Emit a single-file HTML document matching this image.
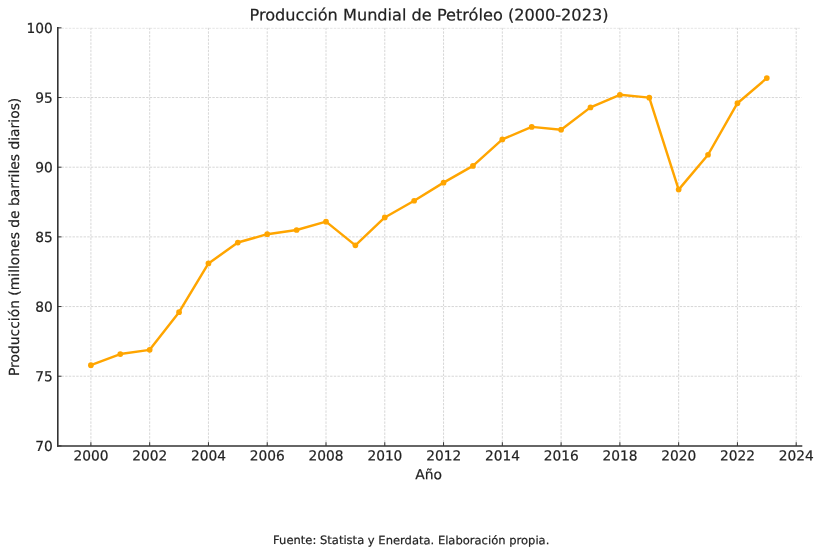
<!DOCTYPE html>
<html lang="es"><head><meta charset="utf-8"><title>Producción Mundial de Petróleo (2000-2023)</title>
<style>html,body{margin:0;padding:0;background:#fff;}body{width:822px;height:555px;overflow:hidden;}svg{display:block;}text{font-family:"DejaVu Sans","Liberation Sans",sans-serif;fill:#222222;stroke:#222222;stroke-width:0.2px;text-rendering:geometricPrecision;}</style>
</head><body>
<svg width="822" height="555" viewBox="0 0 822 555">
<rect width="822" height="555" fill="#ffffff"/>
<g stroke="#c9c9c9" stroke-width="0.75" stroke-dasharray="2.4 1.28" fill="none">
<line x1="90.90" y1="445.90" x2="90.90" y2="27.85"/>
<line x1="149.68" y1="445.90" x2="149.68" y2="27.85"/>
<line x1="208.45" y1="445.90" x2="208.45" y2="27.85"/>
<line x1="267.23" y1="445.90" x2="267.23" y2="27.85"/>
<line x1="326.00" y1="445.90" x2="326.00" y2="27.85"/>
<line x1="384.77" y1="445.90" x2="384.77" y2="27.85"/>
<line x1="443.55" y1="445.90" x2="443.55" y2="27.85"/>
<line x1="502.33" y1="445.90" x2="502.33" y2="27.85"/>
<line x1="561.10" y1="445.90" x2="561.10" y2="27.85"/>
<line x1="619.88" y1="445.90" x2="619.88" y2="27.85"/>
<line x1="678.65" y1="445.90" x2="678.65" y2="27.85"/>
<line x1="737.43" y1="445.90" x2="737.43" y2="27.85"/>
<line x1="796.20" y1="445.90" x2="796.20" y2="27.85"/>
<line x1="57.80" y1="376.22" x2="801.50" y2="376.22"/>
<line x1="57.80" y1="306.55" x2="801.50" y2="306.55"/>
<line x1="57.80" y1="236.88" x2="801.50" y2="236.88"/>
<line x1="57.80" y1="167.20" x2="801.50" y2="167.20"/>
<line x1="57.80" y1="97.53" x2="801.50" y2="97.53"/>
<line x1="57.80" y1="28.30" x2="801.20" y2="28.30" stroke-width="0.5"/>
</g>
<polyline points="90.90,365.18 120.29,354.03 149.68,349.85 179.06,312.22 208.45,263.45 237.84,242.55 267.23,234.19 296.61,230.01 326.00,221.65 355.39,245.34 384.77,217.47 414.16,200.74 443.55,182.63 472.94,165.91 502.33,139.43 531.71,126.89 561.10,129.68 590.49,107.38 619.88,94.84 649.26,97.63 678.65,189.60 708.04,154.76 737.43,103.20 766.81,78.12" fill="none" stroke="#ffa500" stroke-width="2.45" stroke-linejoin="round" stroke-linecap="butt"/>
<g fill="#ffa500">
<circle cx="90.90" cy="365.18" r="2.85"/>
<circle cx="120.29" cy="354.03" r="2.85"/>
<circle cx="149.68" cy="349.85" r="2.85"/>
<circle cx="179.06" cy="312.22" r="2.85"/>
<circle cx="208.45" cy="263.45" r="2.85"/>
<circle cx="237.84" cy="242.55" r="2.85"/>
<circle cx="267.23" cy="234.19" r="2.85"/>
<circle cx="296.61" cy="230.01" r="2.85"/>
<circle cx="326.00" cy="221.65" r="2.85"/>
<circle cx="355.39" cy="245.34" r="2.85"/>
<circle cx="384.77" cy="217.47" r="2.85"/>
<circle cx="414.16" cy="200.74" r="2.85"/>
<circle cx="443.55" cy="182.63" r="2.85"/>
<circle cx="472.94" cy="165.91" r="2.85"/>
<circle cx="502.33" cy="139.43" r="2.85"/>
<circle cx="531.71" cy="126.89" r="2.85"/>
<circle cx="561.10" cy="129.68" r="2.85"/>
<circle cx="590.49" cy="107.38" r="2.85"/>
<circle cx="619.88" cy="94.84" r="2.85"/>
<circle cx="649.26" cy="97.63" r="2.85"/>
<circle cx="678.65" cy="189.60" r="2.85"/>
<circle cx="708.04" cy="154.76" r="2.85"/>
<circle cx="737.43" cy="103.20" r="2.85"/>
<circle cx="766.81" cy="78.12" r="2.85"/>
</g>
<g stroke="#333333" stroke-width="1.0" fill="none">
<line x1="90.90" y1="445.90" x2="90.90" y2="442.20"/>
<line x1="149.68" y1="445.90" x2="149.68" y2="442.20"/>
<line x1="208.45" y1="445.90" x2="208.45" y2="442.20"/>
<line x1="267.23" y1="445.90" x2="267.23" y2="442.20"/>
<line x1="326.00" y1="445.90" x2="326.00" y2="442.20"/>
<line x1="384.77" y1="445.90" x2="384.77" y2="442.20"/>
<line x1="443.55" y1="445.90" x2="443.55" y2="442.20"/>
<line x1="502.33" y1="445.90" x2="502.33" y2="442.20"/>
<line x1="561.10" y1="445.90" x2="561.10" y2="442.20"/>
<line x1="619.88" y1="445.90" x2="619.88" y2="442.20"/>
<line x1="678.65" y1="445.90" x2="678.65" y2="442.20"/>
<line x1="737.43" y1="445.90" x2="737.43" y2="442.20"/>
<line x1="796.20" y1="445.90" x2="796.20" y2="442.20"/>
<line x1="57.80" y1="445.90" x2="61.50" y2="445.90"/>
<line x1="57.80" y1="376.22" x2="61.50" y2="376.22"/>
<line x1="57.80" y1="306.55" x2="61.50" y2="306.55"/>
<line x1="57.80" y1="236.88" x2="61.50" y2="236.88"/>
<line x1="57.80" y1="167.20" x2="61.50" y2="167.20"/>
<line x1="57.80" y1="97.53" x2="61.50" y2="97.53"/>
<line x1="57.80" y1="27.85" x2="61.50" y2="27.85"/>
</g>
<g stroke="#333333" stroke-width="1.6" fill="none" stroke-linecap="square">
<line x1="57.80" y1="27.85" x2="57.80" y2="445.90"/>
<line x1="57.80" y1="446.00" x2="801.50" y2="446.00"/>
</g>
<text transform="translate(91.00 460.55) rotate(0.03) scale(0.990 1.000)" font-size="13.89" text-anchor="middle">2000</text>
<text transform="translate(149.78 460.55) rotate(0.03) scale(0.990 1.000)" font-size="13.89" text-anchor="middle">2002</text>
<text transform="translate(208.55 460.55) rotate(0.03) scale(0.990 1.000)" font-size="13.89" text-anchor="middle">2004</text>
<text transform="translate(267.33 460.55) rotate(0.03) scale(0.990 1.000)" font-size="13.89" text-anchor="middle">2006</text>
<text transform="translate(326.10 460.55) rotate(0.03) scale(0.990 1.000)" font-size="13.89" text-anchor="middle">2008</text>
<text transform="translate(384.88 460.55) rotate(0.03) scale(0.990 1.000)" font-size="13.89" text-anchor="middle">2010</text>
<text transform="translate(443.65 460.55) rotate(0.03) scale(0.990 1.000)" font-size="13.89" text-anchor="middle">2012</text>
<text transform="translate(502.43 460.55) rotate(0.03) scale(0.990 1.000)" font-size="13.89" text-anchor="middle">2014</text>
<text transform="translate(561.20 460.55) rotate(0.03) scale(0.990 1.000)" font-size="13.89" text-anchor="middle">2016</text>
<text transform="translate(619.98 460.55) rotate(0.03) scale(0.990 1.000)" font-size="13.89" text-anchor="middle">2018</text>
<text transform="translate(678.75 460.55) rotate(0.03) scale(0.990 1.000)" font-size="13.89" text-anchor="middle">2020</text>
<text transform="translate(737.53 460.55) rotate(0.03) scale(0.990 1.000)" font-size="13.89" text-anchor="middle">2022</text>
<text transform="translate(796.30 460.55) rotate(0.03) scale(0.990 1.000)" font-size="13.89" text-anchor="middle">2024</text>
<text transform="translate(52.70 451.00) rotate(0.03) scale(0.990 1.000)" font-size="13.89" text-anchor="end">70</text>
<text transform="translate(52.70 381.32) rotate(0.03) scale(0.990 1.000)" font-size="13.89" text-anchor="end">75</text>
<text transform="translate(52.70 311.65) rotate(0.03) scale(0.990 1.000)" font-size="13.89" text-anchor="end">80</text>
<text transform="translate(52.70 241.97) rotate(0.03) scale(0.990 1.000)" font-size="13.89" text-anchor="end">85</text>
<text transform="translate(52.70 172.30) rotate(0.03) scale(0.990 1.000)" font-size="13.89" text-anchor="end">90</text>
<text transform="translate(52.70 102.63) rotate(0.03) scale(0.990 1.000)" font-size="13.89" text-anchor="end">95</text>
<text transform="translate(52.70 32.95) rotate(0.03) scale(0.990 1.000)" font-size="13.89" text-anchor="end">100</text>
<text transform="translate(428.95 20.50) rotate(0.03) scale(1.000 1.000)" font-size="16.15" text-anchor="middle">Producción Mundial de Petróleo (2000-2023)</text>
<text transform="translate(428.70 479.20) rotate(0.03) scale(1.000 1.000)" font-size="13.89" text-anchor="middle">Año</text>
<text transform="translate(18.60 236.90) rotate(-90) scale(1.000 1.000)" font-size="13.89" text-anchor="middle">Producción (millones de barriles diarios)</text>
<text transform="translate(411.20 544.15) rotate(0.03) scale(1.000 1.000)" font-size="11.54" text-anchor="middle">Fuente: Statista y Enerdata. Elaboración propia.</text>
</svg>
</body></html>
